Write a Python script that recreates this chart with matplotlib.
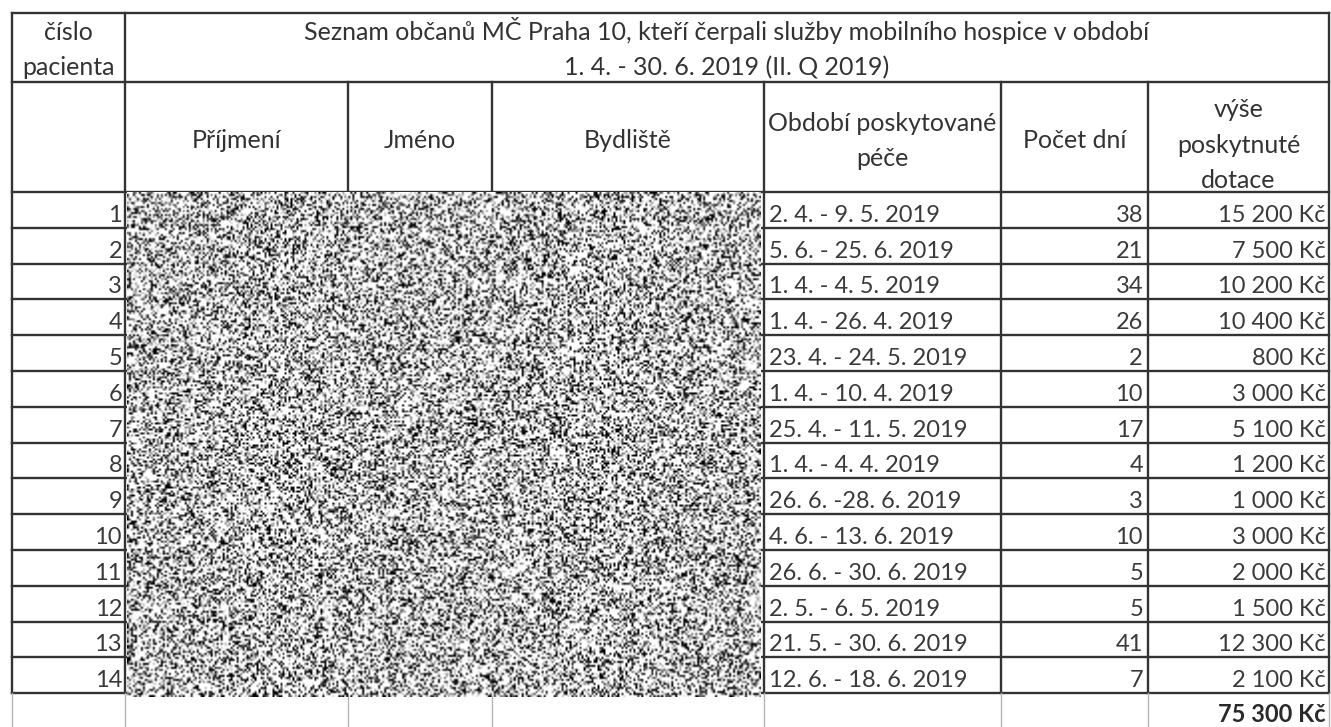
import numpy as np
import matplotlib
matplotlib.use("Agg")
import matplotlib.pyplot as plt

# table data
cisla = list(range(1, 15))
obdobi = ["2. 4. - 9. 5. 2019", "5. 6. - 25. 6. 2019", "1. 4. - 4. 5. 2019",
          "1. 4. - 26. 4. 2019", "23. 4. - 24. 5. 2019", "1. 4. - 10. 4. 2019",
          "25. 4. - 11. 5. 2019", "1. 4. - 4. 4. 2019", "26. 6. -28. 6. 2019",
          "4. 6. - 13. 6. 2019", "26. 6. - 30. 6. 2019", "2. 5. - 6. 5. 2019",
          "21. 5. - 30. 6. 2019", "12. 6. - 18. 6. 2019"]
pocet_dni = [38, 21, 34, 26, 2, 10, 17, 4, 3, 10, 5, 5, 41, 7]
dotace = [15200, 7500, 10200, 10400, 800, 3000, 5100, 1200, 1000, 3000, 2000, 1500, 12300, 2100]

nadpis1 = "Seznam občanů MČ Praha 10, kteří čerpali služby mobilního hospice v období"
nadpis2 = "1. 4. - 30. 6. 2019 (II. Q 2019)"


def kc(v):
    return "{:,}".format(v).replace(",", " ") + " Kč"


plt.rcParams['font.family'] = ['Lato', 'DejaVu Sans']
fig = plt.figure(figsize=(13.31, 7.27), dpi=100)
ax = fig.add_axes([0, 0, 1, 1])
ax.set_xlim(0, 1331)
ax.set_ylim(727, 0)
ax.axis('off')

# layout (pixels)
xs = [12, 125, 348, 492, 764, 1001, 1148, 1329]
y_top, y_split, y_head = 13, 82, 192
row_h = 35.8
y_rows = [y_head + i * row_h for i in range(len(cisla) + 1)]
y_end = y_rows[-1]
dark = '#333333'
lw = 1.7
fs = 17
fs_h = 18

# grid
ax.plot([xs[0], xs[-1]], [y_top, y_top], color=dark, lw=lw)
ax.plot([xs[0], xs[-1]], [y_split, y_split], color=dark, lw=lw)
for y in y_rows:
    ax.plot([xs[0], xs[-1]], [y, y], color=dark, lw=lw)
for x in (xs[0], xs[1], xs[-1]):
    ax.plot([x, x], [y_top, y_end], color=dark, lw=lw)
for x in xs[2:-1]:
    ax.plot([x, x], [y_split, y_end], color=dark, lw=lw)
for x in xs:
    ax.plot([x, x], [y_end, 727], color='#b5b5b5', lw=1.0)

# redaction texture over name / address columns
rng = np.random.default_rng(7)
a = rng.random((252, 318))
tex = np.clip((a - 0.12) * 2.6, 0, 1)
ax.imshow(tex, cmap='gray', vmin=0, vmax=1, interpolation='bilinear',
          extent=(xs[1] + 2, xs[4] - 3, y_end + 4, y_head + 1), aspect='auto', zorder=3)

# header row 1
ax.text((xs[0] + xs[1]) / 2, 40, "číslo", ha='center', va='baseline', fontsize=fs_h, color=dark)
ax.text((xs[0] + xs[1]) / 2, 75, "pacienta", ha='center', va='baseline', fontsize=fs_h, color=dark)
ax.text((xs[1] + xs[-1]) / 2, 40, nadpis1, ha='center', va='baseline', fontsize=fs_h, color=dark)
ax.text((xs[1] + xs[-1]) / 2, 75, nadpis2, ha='center', va='baseline', fontsize=fs_h, color=dark)

# header row 2
hlavicky = [["Příjmení"], ["Jméno"], ["Bydliště"], ["Období poskytované", "péče"],
            ["Počet dní"], ["výše", "poskytnuté", "dotace"]]
baselines = {1: [148], 2: [131, 166], 3: [117, 153, 188]}
for i, lines in enumerate(hlavicky):
    cx = (xs[i + 1] + xs[i + 2]) / 2
    for t, yb in zip(lines, baselines[len(lines)]):
        ax.text(cx, yb, t, ha='center', va='baseline', fontsize=fs_h, color=dark)

# data rows
txt = '#3a3a3a'
for i in range(len(cisla)):
    yb = y_rows[i + 1] - 6
    ax.text(xs[1] - 3, yb, str(cisla[i]), ha='right', va='baseline', fontsize=fs, color=txt)
    ax.text(xs[4] + 5, yb, obdobi[i], ha='left', va='baseline', fontsize=fs, color=txt)
    ax.text(xs[5] + 142, yb, str(pocet_dni[i]), ha='right', va='baseline', fontsize=fs, color=txt)
    ax.text(xs[-1] - 3, yb, kc(dotace[i]), ha='right', va='baseline', fontsize=fs, color=txt)

ax.text(xs[-1] - 3, y_end + 29, kc(sum(dotace)), ha='right', va='baseline',
        fontsize=fs, color='#2a2a2a', fontweight='bold')

fig.savefig("out.png", dpi=100)
